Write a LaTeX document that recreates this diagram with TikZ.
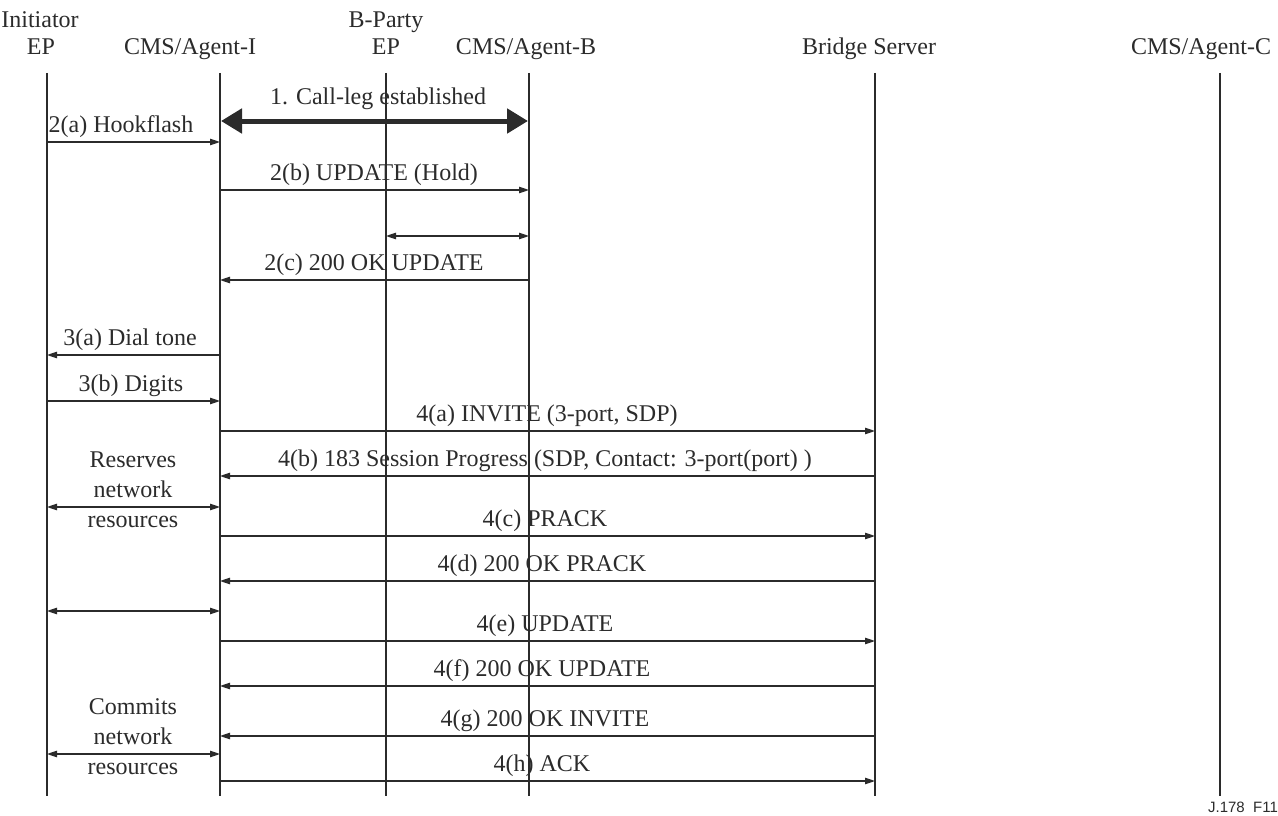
\documentclass[tikz,border=0pt]{standalone}
\usepackage{fontspec}
\setmainfont{Liberation Serif}
\newfontfamily\labfont{Liberation Sans}
\usetikzlibrary{arrows.meta}
\definecolor{ink}{HTML}{2B2B2B}
\tikzset{
  life/.style={draw=ink, line width=1.1pt},
  msg/.style={draw=ink, line width=1.1pt, -{Triangle[length=10pt,width=6.5pt]}},
  both/.style={draw=ink, line width=1.1pt, {Triangle[length=10pt,width=6.5pt]}-{Triangle[length=10pt,width=6.5pt]}},
  thickarr/.style={draw=ink, line width=5pt, {Triangle[length=21pt,width=24pt]}-{Triangle[length=21pt,width=24pt]}, shorten <=1pt, shorten >=1pt},
  lbl/.style={text=ink, font=\fontsize{24}{30}\selectfont, inner sep=0pt, anchor=base},
  head/.style={text=ink, font=\fontsize{24}{26}\selectfont, inner sep=0pt, anchor=base, align=center},
  note/.style={text=ink, font=\fontsize{24}{30}\selectfont, inner sep=0pt, align=center},
}
\begin{document}
\begin{tikzpicture}[x=1pt,y=-1pt]
\useasboundingbox (0,0) rectangle (1278,816);
% headers
\node[head] (hI1) at (40,28) {Initiator};
\node[head] (hI2) at (41,55) {EP};
\node[head] (hA) at (190,55) {CMS/Agent-I};
\node[head] (hB1) at (386,28) {B-Party};
\node[head] (hB2) at (386,55) {EP};
\node[head] (hAB) at (526,55) {CMS/Agent-B};
\node[head] (hBS) at (869,55) {Bridge Server};
\node[head] (hAC) at (1201,55) {CMS/Agent-C};
% lifelines
\coordinate (iT) at (47,73);   \coordinate (iB) at (47,796);
\coordinate (aT) at (220,73);  \coordinate (aB) at (220,796);
\coordinate (pT) at (386,73);  \coordinate (pB) at (386,796);
\coordinate (bT) at (529,73);  \coordinate (bB) at (529,796);
\coordinate (sT) at (875,73);  \coordinate (sB) at (875,796);
\coordinate (cT) at (1220,73); \coordinate (cB) at (1220,796);
\foreach \t/\b in {iT/iB,aT/aB,pT/pB,bT/bB,sT/sB,cT/cB} \draw[life] (\t) -- (\b);
% 1
\draw[thickarr] (aT |- 0,121) -- (bT |- 0,121);
\node[lbl] (l1) at (378,104) {1. Call-leg established};
% 2(a)
\draw[msg] (iT |- 0,142) -- (aT |- 0,142);
\node[lbl] (l2a) at (121,132) {2(a) Hookflash};
% 2(b)
\draw[msg] (aT |- 0,190) -- (bT |- 0,190);
\node[lbl] (l2b) at (374,180) {2(b) UPDATE (Hold)};
% bp <-> ab
\draw[both] (pT |- 0,236) -- (bT |- 0,236);
% 2(c)
\draw[msg] (bT |- 0,280) -- (aT |- 0,280);
\node[lbl] (l2c) at (374,270) {2(c) 200 OK UPDATE};
% 3(a)
\draw[msg] (aT |- 0,355) -- (iT |- 0,355);
\node[lbl] (l3a) at (130,345) {3(a) Dial tone};
% 3(b)
\draw[msg] (iT |- 0,401) -- (aT |- 0,401);
\node[lbl] (l3b) at (131,391) {3(b) Digits};
% 4(a)
\draw[msg] (aT |- 0,431) -- (sT |- 0,431);
\node[lbl] (l4a) at (547,421) {4(a) INVITE (3-port, SDP)};
% 4(b)
\draw[msg] (sT |- 0,476) -- (aT |- 0,476);
\node[lbl] (l4b) at (545,466) {4(b) 183 Session Progress (SDP, Contact: 3-port(port) )};
% reserves
\node[note] (res) at (133,490) {Reserves\\network\\resources};
\draw[both] (iT |- 0,507) -- (aT |- 0,507);
% 4(c)
\draw[msg] (aT |- 0,536) -- (sT |- 0,536);
\node[lbl] (l4c) at (545,526) {4(c) PRACK};
% 4(d)
\draw[msg] (sT |- 0,581) -- (aT |- 0,581);
\node[lbl] (l4d) at (542,571) {4(d) 200 OK PRACK};
% double
\draw[both] (iT |- 0,611) -- (aT |- 0,611);
% 4(e)
\draw[msg] (aT |- 0,641) -- (sT |- 0,641);
\node[lbl] (l4e) at (545,631) {4(e) UPDATE};
% 4(f)
\draw[msg] (sT |- 0,686) -- (aT |- 0,686);
\node[lbl] (l4f) at (542,676) {4(f) 200 OK UPDATE};
% commits
\node[note] (com) at (133,737) {Commits\\network\\resources};
% 4(g)
\draw[msg] (sT |- 0,736) -- (aT |- 0,736);
\node[lbl] (l4g) at (545,726) {4(g) 200 OK INVITE};
\draw[both] (iT |- 0,754) -- (aT |- 0,754);
% 4(h)
\draw[msg] (aT |- 0,781) -- (sT |- 0,781);
\node[lbl] (l4h) at (542,771) {4(h) ACK};
% figure id
\node[text=ink, font=\labfont\fontsize{15}{17}\selectfont, inner sep=0pt, anchor=base] (fid) at (1243,812) {J.178\ \ F11};
\end{tikzpicture}
\end{document}
